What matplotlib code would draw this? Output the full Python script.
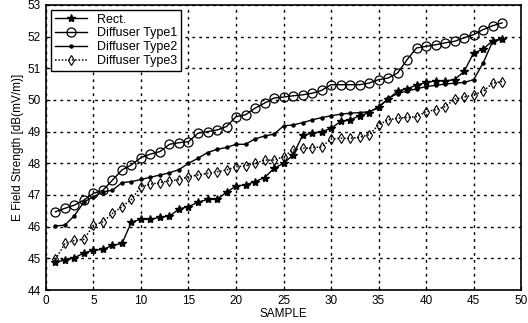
import numpy as np
import matplotlib.pyplot as plt

plt.rcParams['font.family'] = ['Liberation Sans', 'DejaVu Sans']

sample = np.arange(1, 49)

rect = [44.89, 44.94, 45.02, 45.17, 45.26, 45.28, 45.41, 45.47, 46.15, 46.23,
        46.23, 46.30, 46.33, 46.56, 46.63, 46.77, 46.86, 46.86, 47.09, 47.28,
        47.32, 47.42, 47.55, 47.84, 48.00, 48.26, 48.88, 48.95, 49.00, 49.10,
        49.32, 49.37, 49.50, 49.60, 49.79, 50.02, 50.28, 50.35, 50.47, 50.55,
        50.60, 50.60, 50.64, 50.90, 51.48, 51.60, 51.87, 51.92]
type1 = [46.47, 46.58, 46.68, 46.84, 47.05, 47.15, 47.47, 47.79, 47.95, 48.18,
         48.29, 48.37, 48.60, 48.65, 48.68, 48.95, 49.00, 49.05, 49.16, 49.47,
         49.53, 49.74, 49.90, 50.06, 50.09, 50.13, 50.16, 50.21, 50.30, 50.48,
         50.48, 50.48, 50.48, 50.53, 50.64, 50.69, 50.85, 51.27, 51.64, 51.69,
         51.74, 51.80, 51.85, 51.96, 52.06, 52.22, 52.34, 52.43]
type2 = [46.02, 46.05, 46.35, 46.78, 46.94, 47.10, 47.15, 47.39, 47.42, 47.49,
         47.56, 47.63, 47.70, 47.80, 48.00, 48.16, 48.34, 48.44, 48.50, 48.60,
         48.60, 48.77, 48.86, 48.92, 49.18, 49.21, 49.28, 49.37, 49.44, 49.50,
         49.55, 49.58, 49.60, 49.63, 49.75, 50.05, 50.20, 50.28, 50.35, 50.42,
         50.46, 50.50, 50.53, 50.55, 50.64, 51.16, 51.85, 51.92]
type3 = [44.97, 45.47, 45.57, 45.60, 46.05, 46.15, 46.42, 46.63, 46.86, 47.26,
         47.34, 47.39, 47.45, 47.48, 47.58, 47.63, 47.68, 47.73, 47.79, 47.89,
         47.92, 48.00, 48.10, 48.10, 48.21, 48.42, 48.47, 48.49, 48.52, 48.76,
         48.79, 48.79, 48.82, 48.90, 49.21, 49.37, 49.42, 49.45, 49.47, 49.63,
         49.69, 49.79, 50.02, 50.09, 50.16, 50.27, 50.53, 50.58]

fig = plt.figure(figsize=(5.28, 3.23), dpi=100)
ax = fig.add_axes([0.087, 0.102, 0.90, 0.883])

ax.plot(sample, rect, color='black', linestyle='-', marker='*', lw=1.0, ms=6,
        label='Rect.')
ax.plot(sample, type1, color='black', linestyle='-', marker='o', lw=1.0, ms=6.5,
        mfc='none', mew=0.9, label='Diffuser Type1')
ax.plot(sample, type2, color='black', linestyle='-', marker='o', lw=1.0, ms=2.2,
        label='Diffuser Type2')
ax.plot(sample, type3, color='black', linestyle=(0, (1, 1.2)), marker='d', lw=1.1,
        ms=5.5, mfc='none', mew=0.8, label='Diffuser Type3')

ax.set_xlim(0, 50)
ax.set_ylim(44, 53)
ax.set_xticks(range(0, 51, 5))
ax.set_yticks(range(44, 54))
ax.grid(True, color='black', linestyle=(0, (2, 3)), linewidth=1.0)
ax.tick_params(direction='in', labelsize=8.5, length=3, color='black')
for s in ax.spines.values():
    s.set_linewidth(1.2)

ax.set_xlabel('SAMPLE', fontsize=8.5, labelpad=1)
ax.set_ylabel('E Field Strength [dB(mV/m)]', fontsize=8.5, labelpad=3)

leg = ax.legend(loc='upper left', fontsize=9, frameon=True, fancybox=False,
                edgecolor='black', framealpha=1, borderpad=0.3, labelspacing=0.15,
                handlelength=2.6, borderaxespad=0.4)
leg.get_frame().set_linewidth(1.0)

fig.savefig('out.png', dpi=100)
